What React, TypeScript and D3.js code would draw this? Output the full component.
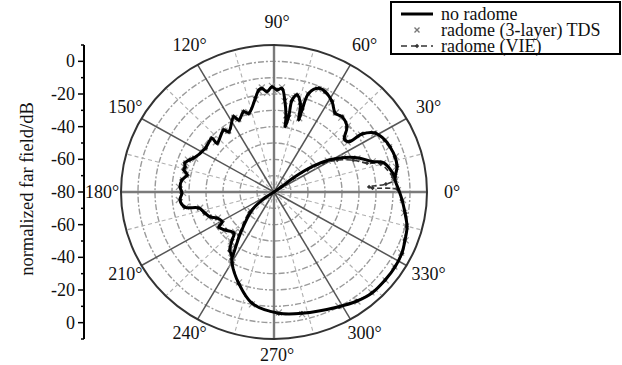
import React from "react";
import * as d3 from "d3";

// ---- data (angle in degrees, value in dB) ----
const noRadomeAngle = [
  7.4, 15.4, 17.9, 22.7, 27.7, 31.3, 34.7, 36.9, 36, 36,
  214, 220.5, 232, 238.6,
  238.2, 233.9, 230, 227, 219, 213.5, 211, 205.4, 202, 197.6,
  192.5, 190, 185, 180.6, 176.8, 172.3, 168.5, 165.7, 163.7, 161.2,
  158.6, 156.2, 146.4, 138, 138.3, 127.9, 125.8, 117.2, 115.2, 109.9,
  107.2, 100.8, 98.2, 96.4, 93.8, 91.1, 88.4, 85.8, 83.6, 81.3,
  80.6, 79.4, 79.3, 77.2, 74.1, 71.8, 71.8, 71.3, 67.5, 63.8,
  58.3, 53.2, 49, 43, 38, 35, 34.4, 31.3, 26, 22.1,
  16.9, 12.1, 7.4,
  5.9, 0.9, 356.3, 350.5, 344.8, 339.1, 333.6, 327.2, 320.5, 313,
  306.2, 298.5, 282.5, 272.2, 259.3, 249.6, 240.5, 238.6,
];
const noRadomeDb = [
  -8.2, -12.9, -19.4, -26, -34.8, -42.3, -52.8, -64.3, -74.3, -80,
  -74, -63, -47.9, -32.6,
  -33.2, -36, -41.6, -45.6, -43, -41.2, -44.3, -42.9, -39.4, -37.4,
  -34.8, -26.8, -24.5, -25.9, -24.6, -25.4, -27.8, -25.4, -25.4, -24.7,
  -26.3, -28.5, -31.5, -30.9, -35.1, -31.9, -34.5, -28.2, -31.3, -27.7,
  -29.6, -21.6, -16.9, -16.1, -18.5, -15.5, -17.5, -16.3, -23.3, -33.4,
  -39.5, -33.1, -22.7, -19.1, -23.5, -33.6, -27.2, -16.2, -11.3, -11.6,
  -15, -19.8, -19, -21.3, -27.5, -26.4, -17.2, -10.5, -7.4, -6.4,
  -5.6, -6, -8.2,
  -8.4, -6.6, -4.5, -1.9, 1.1, 2.5, 4, 4.7, 4.7, 4.5,
  2.7, -0.1, -3.9, -5.7, -10.6, -20.4, -29.8, -32.6,
];
const tdsDb = [
  -8.5, -13.5, -19, -26.8, -34, -43, -52, -65, -73, -79,
  -75, -62, -48.5, -33,
  -32.5, -37, -40.5, -46.5, -42, -42, -43.5, -43.5, -38.5, -38,
  -35.5, -27.5, -23.8, -26.5, -24, -26, -27, -26.2, -24.8, -25.5,
  -25.6, -29.3, -30.8, -31.8, -34.2, -32.6, -33.8, -29, -30.6, -28.5,
  -28.8, -22.4, -17.5, -15.6, -19.2, -15, -18.1, -15.8, -24, -32.5,
  -38.6, -34, -22, -19.8, -22.8, -32.5, -28, -16.8, -11.8, -11,
  -15.6, -19.2, -19.7, -20.6, -26.8, -27.1, -17.9, -11, -7, -6.9,
  -5.1, -6.6, -8.6,
  -8, -7.1, -4, -2.4, 0.6, 2.9, 3.5, 4.2, 5.1, 4,
  3.1, -0.6, -3.4, -6.2, -10, -21, -29, -33,
];
const vieAngle = [
  7.4, 15.4, 17.9, 22.7, 27.7, 31.3, 34.7, 36.9, 36, 36,
  214, 220.5, 232, 238.6,
  238.2, 233.9, 230, 227, 219, 213.5, 211, 205.4, 202, 197.6,
  192.5, 190, 185, 180.6, 176.8, 172.3, 168.5, 165.7, 163.7, 161.2,
  158.6, 156.2, 146.4, 138, 138.3, 127.9, 125.8, 117.2, 115.2, 109.9,
  107.2, 100.8, 98.2, 96.4, 93.8, 91.1, 88.4, 85.8, 83.6, 81.3,
  80.6, 79.4, 79.3, 77.2, 74.1, 71.8, 71.8, 71.3, 67.5, 63.8,
  58.3, 53.2, 49, 43, 38, 35, 34.4, 31.3, 26, 22.1,
  16.9, 12.1, 7.4,
  5.9, 4.2, 3.2, 2.4, 0.9, 356.3, 350.5, 344.8, 339.1, 333.6, 327.2, 320.5, 313,
  306.2, 298.5, 282.5, 272.2, 259.3, 249.6, 240.5, 238.6,
];
const vieDb = [
  -9.5, -15, -22.5, -29.5, -38, -46, -56, -66, -75, -80,
  -73, -61, -46.5, -32,
  -33.8, -35.4, -42, -45, -43.6, -40.8, -44.8, -42.4, -39.8, -37,
  -34.2, -26.4, -24.9, -25.5, -25, -25, -28.2, -25, -25.8, -24.4,
  -26.8, -28.1, -31.9, -30.5, -35.5, -31.5, -34.9, -27.8, -31.7, -27.4,
  -29.9, -21.2, -17.2, -16.4, -18.2, -15.8, -17.2, -16.6, -23, -33.9,
  -39.1, -32.7, -23, -18.8, -23.9, -33.2, -26.8, -16.5, -11, -11.9,
  -14.7, -20.1, -18.7, -21.7, -27.2, -26, -16.9, -10.2, -7.7, -6.2,
  -5.8, -5.8, -8,
  -8.6, -14, -24, -22, -6.9, -4.8, -1.6, 0.8, 2.2, 4.3, 4.4, 4.8, 4.3,
  2.5, 0.2, -4.2, -5.4, -10.9, -20, -30.4, -32.2,
];
const angleTicks = [0, 30, 60, 90, 120, 150, 180, 210, 240, 270, 300, 330];
const dbGrid = [-70, -60, -50, -40, -30, -20, -10, 0];
const axisMajor = [-80, -60, -40, -20, 0, 20, 40, 60, 80];
const axisMinor = [-90, -70, -50, -30, -10, 10, 30, 50, 70, 90];
const legendLabels = ["no radome", "radome (3-layer) TDS", "radome (VIE)"];

// ---- geometry ----
const W = 622, H = 365;
const CX = 274, CY = 192, RX = 153, RY = 147;
const rScale = d3.scaleLinear().domain([-80, 10]).range([0, 1]);
const axisScale = d3.scaleLinear().domain([-90, 90]).range([CY + RY, CY - RY]);
const FONT = "'Liberation Serif', 'Times New Roman', serif";

const pt = (a: number, db: number): [number, number] => {
  const t = (a * Math.PI) / 180;
  const k = rScale(db);
  return [CX + k * RX * Math.cos(t), CY - k * RY * Math.sin(t)];
};

const makeLine = (ang: number[], db: number[]) =>
  d3
    .line<number>()
    .x((i) => pt(ang[i], db[i])[0])
    .y((i) => pt(ang[i], db[i])[1])
    .curve(d3.curveCatmullRom.alpha(0.5))(d3.range(ang.length)) || "";

export default function App() {
  const outer = rScale(10);
  return (
    <svg
      width={W}
      height={H}
      style={{ position: "absolute", left: 0, top: 0, background: "#fff" }}
      fontFamily={FONT}
    >
      <rect width={W} height={H} fill="#fff" />
      {/* dashed grid circles */}
      {dbGrid.map((d) => (
        <ellipse
          key={d}
          cx={CX}
          cy={CY}
          rx={rScale(d) * RX}
          ry={rScale(d) * RY}
          fill="none"
          stroke="#9a9a9a"
          strokeWidth={1.4}
          strokeDasharray="6 2 2 2"
        />
      ))}
      {/* minor dashed radials */}
      {angleTicks.map((a) => {
        const [x, y] = pt(a + 15, 10);
        return (
          <line key={"m" + a} x1={CX} y1={CY} x2={x} y2={y} stroke="#b0b0b0" strokeWidth={1.1} strokeDasharray="4 3" />
        );
      })}
      {/* radial lines */}
      {angleTicks.map((a) => {
        const [x, y] = pt(a, 10);
        const main = a % 90 === 0;
        return (
          <line
            key={a}
            x1={CX}
            y1={CY}
            x2={x}
            y2={y}
            stroke={main ? "#7a7a7a" : "#555"}
            strokeWidth={main ? 2.4 : 1.5}
          />
        );
      })}
      <ellipse cx={CX} cy={CY} rx={outer * RX} ry={outer * RY} fill="none" stroke="#333" strokeWidth={2} />
      {/* angle labels */}
      {angleTicks.map((a) => {
        const t = (a * Math.PI) / 180;
        const s = Math.sin(t);
        return (
          <text
            key={"l" + a}
            x={277 + (RX + 22) * Math.cos(t)}
            y={CY - (RY + (s > 0 ? 23 : 16)) * s}
            textAnchor="middle"
            dominantBaseline="central"
            fontSize={18}
            fill="#111"
          >
            {a}°
          </text>
        );
      })}
      {/* TDS markers */}
      {noRadomeAngle.map((a, i) => {
        const [x, y] = pt(a, tdsDb[i]);
        return (
          <path
            key={"t" + i}
            d={`M${x - 3},${y - 3}L${x + 3},${y + 3}M${x - 3},${y + 3}L${x + 3},${y - 3}`}
            stroke="#999"
            strokeWidth={1.2}
          />
        );
      })}
      {/* VIE line */}
      <path d={makeLine(vieAngle, vieDb)} fill="none" stroke="#333" strokeWidth={1.6} strokeDasharray="5 3" />
      {vieAngle.map((a, i) => {
        const [x, y] = pt(a, vieDb[i]);
        return <path key={"v" + i} d={`M${x},${y - 2.2}L${x + 2.2},${y}L${x},${y + 2.2}L${x - 2.2},${y}Z`} fill="#333" />;
      })}
      {/* no radome line */}
      <path d={makeLine(noRadomeAngle, noRadomeDb)} fill="none" stroke="#000" strokeWidth={3} strokeLinejoin="round" />

      {/* left axis */}
      <line x1={84} x2={84} y1={axisScale(-90)} y2={axisScale(90)} stroke="#000" strokeWidth={2} />
      {axisMajor.map((p) => (
        <g key={"a" + p}>
          <line x1={78} x2={84} y1={axisScale(p)} y2={axisScale(p)} stroke="#000" strokeWidth={1.5} />
          <text x={75} y={axisScale(p)} textAnchor="end" dominantBaseline="central" fontSize={18} fill="#111">
            {String(Math.abs(p) - 80)}
          </text>
        </g>
      ))}
      {axisMinor.map((p) => (
        <line key={"n" + p} x1={81} x2={84} y1={axisScale(p)} y2={axisScale(p)} stroke="#000" strokeWidth={1.5} />
      ))}
      <text
        transform={`translate(27,${CY - 3}) rotate(-90)`}
        textAnchor="middle"
        dominantBaseline="central"
        fontSize={18.5}
        fill="#111"
      >
        normalized far field/dB
      </text>

      {/* legend */}
      <rect x={391} y={2} width={229} height={52} fill="#fff" stroke="#000" strokeWidth={2} />
      <line x1={401} x2={433} y1={14} y2={14} stroke="#000" strokeWidth={3} />
      <path d="M414.5,27.5L419.5,32.5M414.5,32.5L419.5,27.5" stroke="#777" strokeWidth={1.4} />
      <line x1={401} x2={433} y1={46} y2={46} stroke="#333" strokeWidth={1.6} strokeDasharray="6 4" />
      <path d="M417,43.8L419.2,46L417,48.2L414.8,46Z" fill="#333" />
      {legendLabels.map((s, i) => (
        <text key={s} x={441} y={13.5 + i * 16} dominantBaseline="central" fontSize={18} fill="#111">
          {s}
        </text>
      ))}
    </svg>
  );
}
